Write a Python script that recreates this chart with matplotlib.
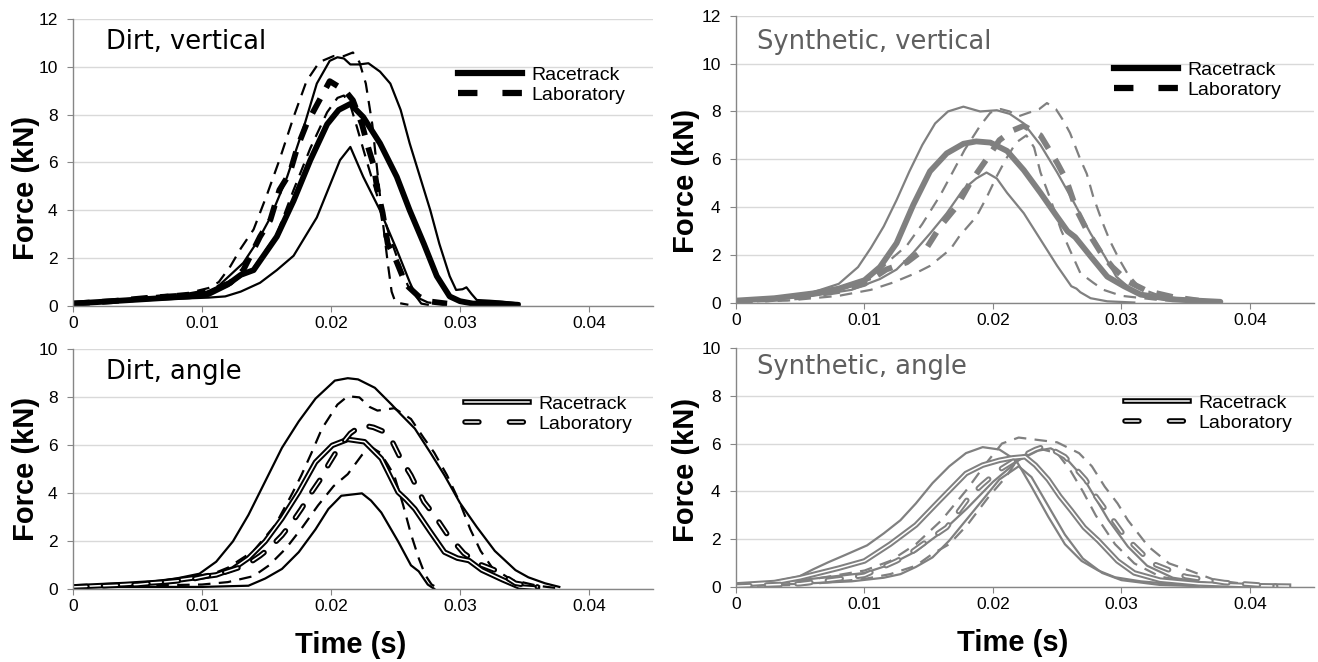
import matplotlib
matplotlib.use("Agg")
import matplotlib.pyplot as plt
import matplotlib.patheffects as pe
from matplotlib.lines import Line2D

plt.rcParams['font.family'] = ['Liberation Sans', 'DejaVu Sans']
plt.rcParams['lines.scale_dashes'] = False
plt.rcParams['lines.solid_joinstyle'] = 'round'
plt.rcParams['lines.dash_joinstyle'] = 'round'

# ---- data: (time s, force kN) ----
# Dirt, vertical
dv_race = [(0, .1), (.003, .2), (.006, .3), (.009, .4), (.0105, .5), (.012, .9), (.013, 1.3),
           (.014, 1.5), (.0158, 2.9), (.0171, 4.4), (.0184, 6.1), (.0197, 7.6), (.0206, 8.2),
           (.0215, 8.45), (.0225, 7.9), (.0238, 6.8), (.0251, 5.4), (.0261, 4.0), (.0272, 2.6),
           (.0282, 1.25), (.0292, .4), (.030, .2), (.031, .1), (.033, .1), (.0345, .05)]
dv_race_hi = [(0, .1), (.003, .25), (.006, .35), (.0098, .45), (.0112, .8), (.0122, 1.3),
              (.0132, 1.8), (.0143, 2.7), (.0153, 3.7), (.0166, 5.4), (.0179, 7.5), (.0189, 9.3),
              (.0199, 10.25), (.0205, 10.4), (.021, 10.35), (.0215, 10.1), (.0222, 10.1),
              (.0229, 10.15), (.0238, 9.8), (.0246, 9.3), (.0254, 8.2), (.0261, 6.8), (.0269, 5.4),
              (.0277, 4.0), (.0284, 2.6), (.0292, 1.25), (.0297, .67), (.0302, .7), (.0305, .78),
              (.0309, .5), (.0313, .25), (.0323, .22), (.0333, .18), (.0346, .1)]
dv_race_lo = [(0, .1), (.004, .2), (.008, .3), (.0105, .35), (.0118, .4), (.013, .6), (.0145, .97),
              (.0158, 1.5), (.0171, 2.1), (.018, 2.9), (.0189, 3.7), (.0198, 4.9), (.0207, 6.1),
              (.0215, 6.65), (.0225, 5.4), (.0238, 4.0), (.0251, 2.35), (.0261, 1.0), (.0266, .4),
              (.027, .1), (.0275, .05)]
dv_lab = [(0, .1), (.003, .2), (.006, .35), (.009, .45), (.0105, .6), (.0122, .97), (.0132, 1.5),
          (.0145, 2.9), (.0153, 3.6), (.016, 4.85), (.0168, 5.55), (.0174, 6.65), (.0181, 7.6),
          (.0191, 8.6), (.0199, 9.4), (.0205, 9.2), (.0211, 9.0), (.0217, 8.6), (.0224, 7.6),
          (.0229, 6.6), (.0233, 5.9), (.0236, 4.85), (.024, 3.9), (.0244, 2.6), (.0249, 2.1),
          (.0255, 1.3), (.026, .8), (.0268, .4), (.0275, .2), (.029, .1)]
dv_lab_hi = [(0, .1), (.003, .2), (.006, .4), (.009, .55), (.0105, .75), (.0113, 1.0),
             (.0122, 1.66), (.013, 2.4), (.014, 3.2), (.015, 4.6), (.016, 6.1), (.0171, 7.9),
             (.0181, 9.4), (.0191, 10.2), (.0202, 10.45), (.021, 10.45), (.0217, 10.6),
             (.0222, 10.2), (.0227, 9.3), (.0232, 7.6), (.0236, 5.6), (.024, 3.6), (.0244, 1.8),
             (.0247, .6), (.025, .15), (.026, .05)]
dv_lab_lo = [(0, .1), (.003, .2), (.006, .35), (.009, .45), (.0105, .6), (.012, .85), (.014, 1.6),
             (.0158, 3.0), (.0171, 4.85), (.0184, 6.6), (.0197, 8.1), (.0205, 8.7), (.021, 8.8),
             (.0215, 8.4), (.022, 7.5), (.0228, 6.0), (.0237, 4.4), (.0245, 3.0), (.0254, 1.6),
             (.026, .8), (.0267, .35), (.0275, .15), (.029, .05)]

# Synthetic, vertical
sv_race = [(0, .1), (.003, .2), (.006, .4), (.008, .6), (.01, .95), (.0112, 1.5), (.0125, 2.5),
           (.0138, 4.1), (.0151, 5.5), (.0164, 6.25), (.0177, 6.65), (.0187, 6.75), (.0198, 6.7),
           (.0211, 6.35), (.0224, 5.55), (.0237, 4.6), (.025, 3.6), (.0258, 3.0), (.0264, 2.75),
           (.0276, 1.95), (.0289, 1.1), (.0302, .7), (.0315, .35), (.034, .15), (.0377, .05)]
sv_race_hi = [(0, .1), (.003, .2), (.006, .45), (.008, .8), (.0095, 1.5), (.0105, 2.3),
              (.0115, 3.2), (.0125, 4.3), (.0135, 5.5), (.0145, 6.6), (.0155, 7.5), (.0165, 8.0),
              (.0177, 8.2), (.019, 8.0), (.0203, 8.05), (.0213, 7.9), (.0224, 7.5), (.0237, 6.6),
              (.025, 5.45), (.0263, 4.2), (.0276, 2.9), (.0287, 1.95), (.0296, 1.1), (.0307, .6),
              (.032, .25), (.034, .1), (.036, .05)]
sv_race_lo = [(0, .05), (.003, .15), (.006, .3), (.009, .55), (.0112, 1.0), (.0125, 1.4),
              (.0138, 2.1), (.0151, 2.9), (.0164, 3.75), (.0177, 4.75), (.0187, 5.2),
              (.0195, 5.45), (.0203, 5.2), (.0211, 4.6), (.0224, 3.75), (.0237, 2.65), (.025, 1.55),
              (.0261, .7), (.0265, .6), (.0268, .45), (.0276, .2), (.0289, .07), (.031, .02)]
sv_lab = [(0, .05), (.005, .25), (.008, .5), (.01, .8), (.0117, 1.4), (.0133, 1.7), (.0149, 2.35),
          (.0159, 3.2), (.0172, 4.05), (.0182, 5.0), (.0195, 6.0), (.0205, 6.8), (.0215, 7.2),
          (.0224, 7.4), (.0237, 7.0), (.025, 5.85), (.0257, 5.15), (.0265, 3.9), (.0273, 3.05),
          (.0284, 2.1), (.0293, 1.5), (.0305, .9), (.032, .5), (.034, .25), (.036, .1)]
sv_lab_hi = [(0, .1), (.004, .2), (.007, .4), (.009, .7), (.0105, 1.0), (.012, 1.8), (.0133, 2.4),
             (.0145, 3.3), (.0159, 4.5), (.0167, 5.3), (.0178, 6.4), (.019, 7.4), (.0198, 7.95),
             (.0206, 8.1), (.0213, 8.0), (.022, 7.8), (.0228, 7.95), (.0236, 8.1), (.0242, 8.35),
             (.0249, 8.1), (.0255, 7.6), (.026, 7.1), (.0268, 6.0), (.0273, 5.4), (.0278, 4.45),
             (.0285, 3.4), (.0291, 2.6), (.0298, 1.85), (.0305, 1.2), (.0315, .6), (.033, .3),
             (.035, .15), (.0375, .05)]
sv_lab_lo = [(0, .05), (.004, .1), (.008, .3), (.0105, .55), (.0122, .85), (.014, 1.25),
             (.0151, 1.55), (.0167, 2.25), (.0174, 2.8), (.0187, 3.6), (.0195, 4.4), (.0203, 5.3),
             (.021, 6.0), (.0218, 6.7), (.0226, 7.0), (.0232, 6.5), (.0237, 5.45), (.0245, 4.3),
             (.0253, 3.05), (.026, 2.2), (.0268, 1.25), (.0278, .85), (.0286, .55), (.03, .3),
             (.033, .12), (.036, .05)]

# Dirt, angle
da_race = [(0, .1), (.004, .2), (.007, .3), (.009, .45), (.0111, .6), (.0124, .85), (.0136, 1.3),
           (.0149, 2.0), (.0162, 2.95), (.0175, 4.05), (.0188, 5.3), (.0201, 6.0), (.0213, 6.25),
           (.0226, 6.15), (.0239, 5.45), (.0252, 4.05), (.0258, 3.75), (.0265, 3.35),
           (.0277, 2.4), (.0288, 1.55), (.0298, 1.3), (.0307, 1.2), (.0317, .8), (.0333, .4),
           (.0346, .1), (.036, .05)]
da_race_hi = [(0, .1), (.005, .25), (.008, .45), (.0098, .65), (.0111, 1.15), (.0124, 2.0),
              (.0136, 3.1), (.0149, 4.5), (.0162, 5.9), (.0175, 7.0), (.0188, 7.95), (.0203, 8.7),
              (.0213, 8.8), (.0221, 8.75), (.0234, 8.4), (.0247, 7.7), (.0254, 7.3), (.0265, 6.7),
              (.0277, 5.7), (.0288, 4.75), (.03, 3.6), (.0313, 2.6), (.0327, 1.6), (.0343, .8),
              (.0353, .5), (.0366, .25), (.0377, .1)]
da_race_lo = [(0, .1), (.005, .1), (.01, .1), (.0136, .15), (.0149, .45), (.0162, .85),
              (.0175, 1.55), (.0188, 2.5), (.0198, 3.35), (.0208, 3.9), (.0216, 3.95),
              (.0224, 4.0), (.0231, 3.7), (.0239, 3.2), (.0252, 2.0), (.0262, 1.0), (.0268, .75),
              (.0275, .2), (.028, .02)]
da_lab = [(0, .1), (.005, .2), (.009, .4), (.0118, .72), (.0134, 1.0), (.0145, 1.4), (.0152, 1.7),
          (.0162, 2.25), (.017, 2.8), (.0177, 3.35), (.0185, 4.05), (.0192, 4.6), (.0198, 5.2),
          (.0206, 5.9), (.0215, 6.5), (.0224, 6.85), (.0233, 6.75), (.0242, 6.55), (.0248, 6.1),
          (.0254, 5.45), (.0262, 4.75), (.0272, 3.65), (.028, 3.1), (.029, 2.3), (.0303, 1.5),
          (.0315, 1.05), (.0327, .8), (.0343, .25), (.036, .1)]
da_lab_hi = [(0, .1), (.005, .25), (.009, .4), (.0104, .55), (.012, .9), (.014, 1.6),
             (.0157, 2.7), (.017, 4.0), (.0177, 4.75), (.0185, 5.7), (.0193, 6.7), (.0205, 7.7),
             (.0213, 8.05), (.0222, 8.0), (.023, 7.6), (.0236, 7.45), (.0243, 7.5), (.0249, 7.55),
             (.0262, 7.1), (.0272, 6.3), (.028, 5.7), (.029, 4.75), (.03, 3.6), (.0308, 2.5),
             (.0316, 1.6), (.0325, .9), (.034, .4), (.036, .15), (.0375, .05)]
da_lab_lo = [(0, .1), (.005, .15), (.01, .2), (.012, .3), (.014, .55), (.0152, 1.0), (.0165, 1.7),
             (.0178, 2.6), (.019, 3.5), (.0202, 4.3), (.0213, 4.8), (.0224, 5.6), (.0232, 5.9),
             (.0238, 5.7), (.0244, 5.2), (.0249, 4.75), (.0256, 3.5), (.0262, 2.3), (.0268, 1.3),
             (.0273, .6), (.0278, .2), (.0283, .05)]

# Synthetic, angle
sa_race = [(0, .1), (.003, .2), (.005, .4), (.008, .8), (.01, 1.1), (.012, 1.8), (.014, 2.6),
           (.0158, 3.6), (.0179, 4.75), (.0192, 5.1), (.0205, 5.3), (.0215, 5.4), (.0225, 5.45),
           (.0233, 5.1), (.0243, 4.5), (.0252, 3.8), (.0261, 3.2), (.0271, 2.5), (.0282, 1.95),
           (.0297, 1.1), (.031, .6), (.033, .3), (.036, .15), (.04, .07), (.043, .05)]
sa_race_a = [(0, .1), (.0023, .17), (.0049, .45), (.006, .75), (.0072, 1.05), (.0085, 1.35),
             (.0102, 1.75), (.0115, 2.25), (.0128, 2.8), (.014, 3.5), (.0153, 4.35), (.0166, 5.05),
             (.0179, 5.6), (.0192, 5.85), (.0205, 5.75), (.0218, 5.3), (.023, 4.2), (.0243, 2.95),
             (.0256, 1.8), (.0269, 1.1), (.0282, .7), (.0295, .42), (.0315, .25), (.0347, .1),
             (.037, .05)]
sa_race_b = [(0, .05), (.005, .15), (.009, .25), (.0115, .4), (.0128, .55), (.014, .85),
             (.0153, 1.25), (.0166, 1.95), (.0179, 2.8), (.0192, 3.65), (.0205, 4.5), (.022, 5.05),
             (.023, 4.6), (.0243, 3.4), (.0256, 2.2), (.027, 1.2), (.0285, .6), (.03, .3),
             (.033, .1), (.036, .05)]
sa_race_c = [(0, .1), (.005, .3), (.01, .6), (.012, .95), (.014, 1.5), (.016, 2.3), (.018, 3.3),
             (.02, 4.4), (.022, 5.3), (.0235, 5.7), (.0245, 5.8), (.0255, 5.5), (.027, 4.6),
             (.028, 3.7), (.029, 2.8), (.0305, 1.7), (.032, .9), (.034, .4), (.037, .15),
             (.043, .05)]
sa_lab = [(0, .05), (.005, .15), (.008, .35), (.01, .5), (.0125, 1.1), (.0135, 1.4), (.0153, 2.1),
          (.0164, 2.5), (.0182, 3.8), (.0192, 4.3), (.0205, 4.9), (.022, 5.4), (.0233, 5.75),
          (.0241, 5.9), (.0256, 5.45), (.0272, 4.5), (.028, 3.8), (.0295, 2.7), (.0303, 2.1),
          (.0324, 1.0), (.035, .45), (.038, .2), (.042, .05)]
sa_lab_hi = [(0, .1), (.005, .25), (.01, .7), (.012, 1.1), (.014, 1.8), (.016, 2.8), (.018, 4.1),
             (.0195, 5.2), (.0207, 6.0), (.022, 6.25), (.0235, 6.15), (.025, 6.05), (.0267, 5.6),
             (.0277, 5.05), (.0287, 4.2), (.0297, 3.5), (.0305, 2.8), (.0321, 1.7), (.0337, 1.0),
             (.0353, .7), (.0373, .3), (.0402, .1), (.0428, .05)]
sa_lab_lo = [(0, .05), (.005, .1), (.01, .35), (.012, .55), (.014, .9), (.0153, 1.4), (.0166, 1.8),
             (.018, 2.6), (.0197, 3.8), (.021, 4.6), (.022, 5.4), (.0235, 5.8), (.025, 5.6),
             (.026, 4.9), (.027, 4.0), (.028, 3.0), (.0295, 1.8), (.031, 1.0), (.033, .45),
             (.036, .15), (.04, .05)]

x_ticks = [0, 0.01, 0.02, 0.03, 0.04]
x_labels = ['0', '0.01', '0.02', '0.03', '0.04']
legend_labels = ['Racetrack', 'Laboratory']

BLACK = '#000000'
GRAY = '#808080'
GRID = '#d9d9d9'
SPINE = '#868686'


def line(ax, pts, c, kind):
    t = [p[0] for p in pts]
    f = [p[1] for p in pts]
    if kind == 'thin':
        ax.plot(t, f, color=c, lw=1.6)
    elif kind == 'thick':
        ax.plot(t, f, color=c, lw=4.2, solid_capstyle='round')
    elif kind == 'thin_dash':
        ax.plot(t, f, color=c, lw=1.6, dashes=(9, 6))
    elif kind == 'thick_dash':
        ax.plot(t, f, color=c, lw=4.2, dashes=(12, 9))
    elif kind == 'double':
        ax.plot(t, f, color='white', lw=1.1,
                path_effects=[pe.Stroke(linewidth=4.0, foreground=c), pe.Normal()])
    elif kind == 'double_dash':
        ax.plot(t, f, color='white', lw=1.1, dashes=(10, 12), dash_capstyle='round',
                path_effects=[pe.Stroke(linewidth=4.0, foreground=c, capstyle='round'),
                              pe.Normal()])


def style_axes(ax, ymax, ylab_x, ylab_y, xlabel):
    ax.set_xlim(0, 0.045)
    ax.set_ylim(0, ymax)
    ax.set_xticks(x_ticks)
    ax.set_xticklabels(x_labels)
    ax.set_yticks(range(0, ymax + 1, 2))
    ax.grid(axis='y', color=GRID, lw=1)
    ax.set_axisbelow(True)
    for s in ['top', 'right']:
        ax.spines[s].set_visible(False)
    for s in ['left', 'bottom']:
        ax.spines[s].set_color(SPINE)
        ax.spines[s].set_linewidth(1)
    ax.tick_params(axis='y', length=4, color=SPINE, labelsize=12.5, pad=7)
    ax.tick_params(axis='x', length=4, color=SPINE, labelsize=12.5, pad=3)
    ax.set_ylabel('Force (kN)', fontsize=21, fontweight='bold')
    ax.yaxis.set_label_coords(ylab_x, ylab_y)
    if xlabel:
        ax.set_xlabel('Time (s)', fontsize=21, fontweight='bold')
        ax.xaxis.set_label_coords(0.478, -0.175)


def add_legend(fig, ax, x0, ytop, double):
    if double:
        h1 = Line2D([], [], color='white', lw=1.1,
                    path_effects=[pe.Stroke(linewidth=4.0, foreground='k'), pe.Normal()])
        h2 = Line2D([], [], color='white', lw=1.1, dashes=(10, 22), dash_capstyle='round',
                    path_effects=[pe.Stroke(linewidth=4.0, foreground='k', capstyle='round'),
                                  pe.Normal()])
    else:
        h1 = Line2D([], [], color='k', lw=4.5)
        h2 = Line2D([], [], color='k', lw=4.5, dashes=(14, 18))
    ax.legend([h1, h2], legend_labels, loc='upper left', frameon=False, fontsize=14,
              handlelength=3.3, handletextpad=0.45, labelspacing=0.12, borderpad=0,
              borderaxespad=0, bbox_to_anchor=(x0 / 1318, 1 - ytop / 662),
              bbox_transform=fig.transFigure)


fig = plt.figure(figsize=(13.18, 6.62), dpi=100)
ax_tl = fig.add_axes([0.0554, 0.5378, 0.4404, 0.4335])
ax_tr = fig.add_axes([0.5584, 0.5423, 0.4387, 0.4340])
ax_bl = fig.add_axes([0.0554, 0.1098, 0.4404, 0.3624])
ax_br = fig.add_axes([0.5584, 0.1128, 0.4387, 0.3620])

# Dirt, vertical
line(ax_tl, dv_race_lo, BLACK, 'thin')
line(ax_tl, dv_race_hi, BLACK, 'thin')
line(ax_tl, dv_lab_lo, BLACK, 'thin_dash')
line(ax_tl, dv_lab_hi, BLACK, 'thin_dash')
line(ax_tl, dv_race, BLACK, 'thick')
line(ax_tl, dv_lab, BLACK, 'thick_dash')

# Synthetic, vertical
line(ax_tr, sv_race_lo, GRAY, 'thin')
line(ax_tr, sv_race_hi, GRAY, 'thin')
line(ax_tr, sv_lab_lo, GRAY, 'thin_dash')
line(ax_tr, sv_lab_hi, GRAY, 'thin_dash')
line(ax_tr, sv_race, GRAY, 'thick')
line(ax_tr, sv_lab, GRAY, 'thick_dash')

# Dirt, angle
line(ax_bl, da_race_lo, BLACK, 'thin')
line(ax_bl, da_race_hi, BLACK, 'thin')
line(ax_bl, da_lab_lo, BLACK, 'thin_dash')
line(ax_bl, da_lab_hi, BLACK, 'thin_dash')
line(ax_bl, da_race, BLACK, 'double')
line(ax_bl, da_lab, BLACK, 'double_dash')

# Synthetic, angle
line(ax_br, sa_race_a, GRAY, 'thin')
line(ax_br, sa_race_b, GRAY, 'thin')
line(ax_br, sa_race_c, GRAY, 'thin')
line(ax_br, sa_lab_lo, GRAY, 'thin_dash')
line(ax_br, sa_lab_hi, GRAY, 'thin_dash')
line(ax_br, sa_race, GRAY, 'double')
line(ax_br, sa_lab, GRAY, 'double_dash')

style_axes(ax_tl, 12, -0.057, 0.41, False)
style_axes(ax_tr, 12, -0.062, 0.425, False)
style_axes(ax_bl, 10, -0.057, 0.5, True)
style_axes(ax_br, 10, -0.062, 0.49, True)

title_kw = dict(fontsize=18.5, family='DejaVu Sans', va='center', ha='left')
ax_tl.text(0.057, 0.92, 'Dirt, vertical', transform=ax_tl.transAxes, color='k', **title_kw)
ax_tr.text(0.037, 0.91, 'Synthetic, vertical', transform=ax_tr.transAxes, color='#5f5f5f',
           **title_kw)
ax_bl.text(0.057, 0.905, 'Dirt, angle', transform=ax_bl.transAxes, color='k', **title_kw)
ax_br.text(0.036, 0.92, 'Synthetic, angle', transform=ax_br.transAxes, color='#5f5f5f',
           **title_kw)

add_legend(fig, ax_tl, 458, 66, False)
add_legend(fig, ax_tr, 1114, 61, False)
add_legend(fig, ax_bl, 465, 395, True)
add_legend(fig, ax_br, 1125, 394, True)

fig.savefig('out.png', dpi=100)
